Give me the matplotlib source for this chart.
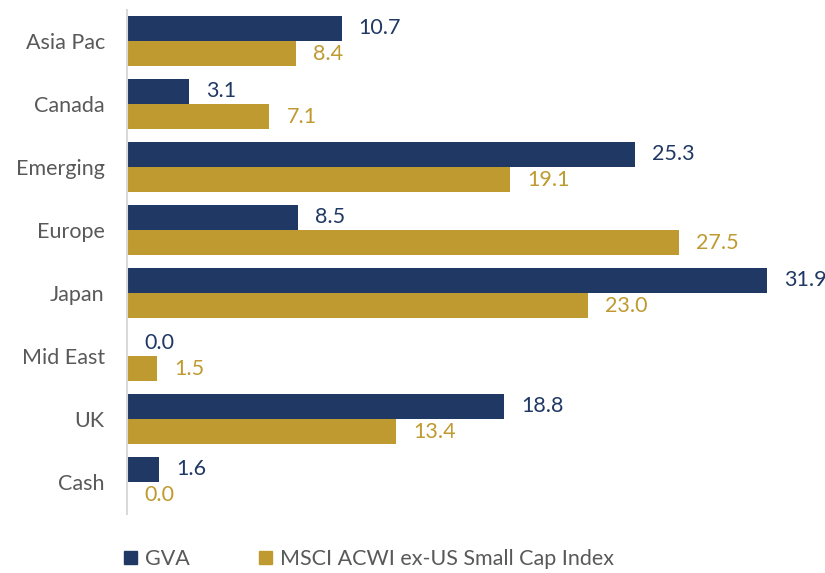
import matplotlib
matplotlib.use("Agg")
import matplotlib.pyplot as plt
from matplotlib.patches import Patch
import numpy as np

categories = ["Asia Pac", "Canada", "Emerging", "Europe", "Japan", "Mid East", "UK", "Cash"]
gva = [10.7, 3.1, 25.3, 8.5, 31.9, 0.0, 18.8, 1.6]
msci = [8.4, 7.1, 19.1, 27.5, 23.0, 1.5, 13.4, 0.0]
series_names = ["GVA", "MSCI ACWI ex-US Small Cap Index"]

navy = "#1F3864"
gold = "#BF9A30"
gray = "#595959"

plt.rcParams['font.family'] = ['Lato', 'DejaVu Sans']

fig = plt.figure(figsize=(8.25, 5.73), dpi=100)
W, H = 825, 573
ax = fig.add_axes([127 / W, 1 - 513.5 / H, (W - 127) / W, (513.5 - 9.5) / H])

y = np.arange(len(categories))
h = 0.4
ax.barh(y - h / 2, gva, height=h, color=navy)
ax.barh(y + h / 2, msci, height=h, color=gold)

fs = 15.5
for yi, v in zip(y, gva):
    ax.annotate(f"{v:.1f}", (v, yi - h / 2), xytext=(17, 0), textcoords='offset pixels',
                va='center', ha='left', color=navy, fontsize=fs)
for yi, v in zip(y, msci):
    ax.annotate(f"{v:.1f}", (v, yi + h / 2), xytext=(17, 0), textcoords='offset pixels',
                va='center', ha='left', color=gold, fontsize=fs)

ax.set_ylim(len(categories) - 0.5, -0.5)
ax.set_xlim(0, (W - 127) / 20.06)
ax.set_yticks(y)
ax.set_yticklabels(categories, fontsize=fs, color=gray)
ax.tick_params(axis='y', length=0, pad=16)
ax.set_xticks([])
for s in ['top', 'right', 'bottom']:
    ax.spines[s].set_visible(False)
ax.spines['left'].set_color('#D9D9D9')
ax.spines['left'].set_linewidth(1.5)

handles = [Patch(color=navy), Patch(color=gold)]
fig.legend(handles, series_names, loc='center left', bbox_to_anchor=(113 / W, 1 - 559 / H),
           ncol=2, frameon=False, fontsize=fs, handlelength=0.6, handleheight=0.6,
           handletextpad=0.4, columnspacing=3.2, labelcolor=gray, borderpad=0)

fig.savefig("out.png", dpi=100)
